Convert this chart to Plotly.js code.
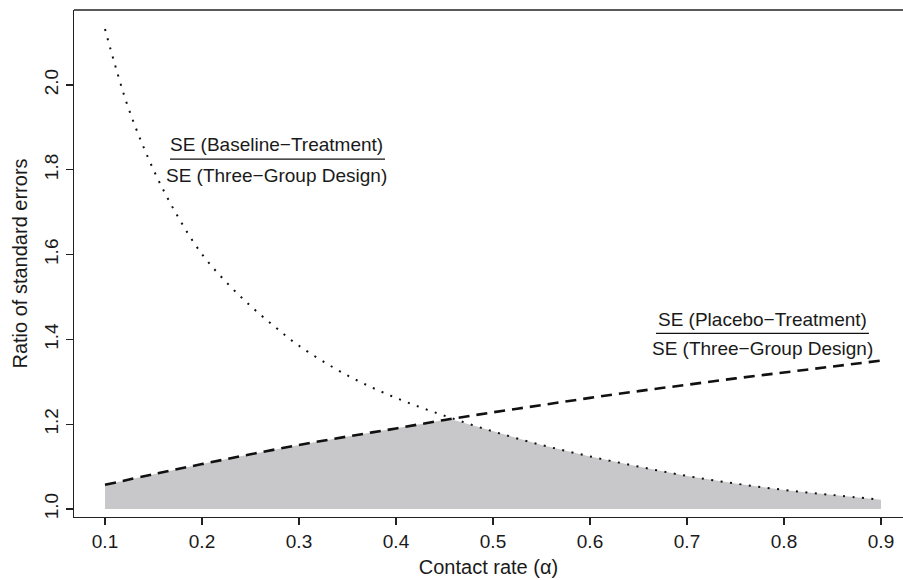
<!DOCTYPE html>
<html>
<head>
<meta charset="utf-8">
<script src="https://cdn.plot.ly/plotly-3.0.1.min.js"></script>
<style>
html,body{margin:0;padding:0;background:#fff;overflow:hidden;}
#chart{width:903px;height:580px;}
</style>
</head>
<body>
<div id="chart"></div>
<script>
// Contact rate values and ratios
const alphaBaseline = [0.1, 0.11, 0.125, 0.15, 0.175, 0.2, 0.225, 0.25, 0.275, 0.3, 0.35, 0.4, 0.45, 0.5, 0.55, 0.6, 0.65, 0.7, 0.75, 0.8, 0.85, 0.9];
const ratioBaseline = [2.132, 2.05, 1.94, 1.80, 1.69, 1.601, 1.535, 1.479, 1.43, 1.385, 1.315, 1.262, 1.220, 1.183, 1.151, 1.124, 1.100, 1.078, 1.060, 1.045, 1.033, 1.022];
const alphaPlacebo = [0.1, 0.15, 0.2, 0.25, 0.3, 0.35, 0.4, 0.45, 0.5, 0.55, 0.6, 0.65, 0.7, 0.75, 0.8, 0.85, 0.9];
const ratioPlacebo = [1.057, 1.082, 1.106, 1.129, 1.151, 1.171, 1.190, 1.210, 1.228, 1.245, 1.262, 1.278, 1.293, 1.308, 1.322, 1.336, 1.350];
const crossing = {x: 0.455, y: 1.213};
const baseline = 1.0;
const xTicks = [0.1, 0.2, 0.3, 0.4, 0.5, 0.6, 0.7, 0.8, 0.9];
const yTicks = [1.0, 1.2, 1.4, 1.6, 1.8, 2.0];
const labelBaselineNum = 'SE (Baseline\u2212Treatment)';
const labelPlaceboNum = 'SE (Placebo\u2212Treatment)';
const labelDen = 'SE (Three\u2212Group Design)';

// Shaded region: lower envelope of the two curves down to ratio 1
const fillX = [], fillY = [];
alphaPlacebo.forEach((a, i) => { if (a < crossing.x) { fillX.push(a); fillY.push(ratioPlacebo[i]); } });
fillX.push(crossing.x); fillY.push(crossing.y);
alphaBaseline.forEach((a, i) => { if (a > crossing.x) { fillX.push(a); fillY.push(ratioBaseline[i]); } });
fillX.push(alphaBaseline[alphaBaseline.length - 1]); fillY.push(baseline);
fillX.push(alphaPlacebo[0]); fillY.push(baseline);

const font = 'Liberation Sans, Arial, Helvetica, sans-serif';
const txt = '#1a1a1a';

const traces = [
  {x: fillX, y: fillY, type: 'scatter', mode: 'lines', fill: 'toself',
   fillcolor: 'rgb(200,200,202)', line: {width: 0}, hoverinfo: 'skip', showlegend: false},
  {x: alphaBaseline, y: ratioBaseline, type: 'scatter', mode: 'lines',
   line: {color: '#111', width: 2, dash: '2px,7.5px', shape: 'spline'}, showlegend: false},
  {x: alphaPlacebo, y: ratioPlacebo, type: 'scatter', mode: 'lines',
   line: {color: '#111', width: 2.6, dash: '11px,7px', shape: 'spline'}, showlegend: false}
];

const layout = {
  width: 903, height: 580,
  margin: {l: 74, r: 0, t: 10, b: 63},
  paper_bgcolor: '#fff', plot_bgcolor: '#fff',
  showlegend: false,
  font: {family: font, size: 19, color: txt},
  xaxis: {
    range: [0.06804, 0.92268], tickvals: xTicks, tickformat: '.1f',
    showgrid: false, zeroline: false, showline: true, linecolor: '#222', linewidth: 1.4,
    ticks: 'outside', ticklen: 7, tickwidth: 1.3, tickcolor: '#222',
    tickfont: {family: font, size: 19, color: txt},
    title: {text: 'Contact rate (\u03b1)', font: {family: font, size: 20, color: txt}, standoff: 8}
  },
  yaxis: {
    range: [0.98113, 2.17689], tickvals: yTicks, tickformat: '.1f', tickangle: -90,
    showgrid: false, zeroline: false, showline: true, linecolor: '#222', linewidth: 1.4,
    ticks: 'outside', ticklen: 7, tickwidth: 1.3, tickcolor: '#222',
    tickfont: {family: font, size: 19, color: txt},
    title: {text: 'Ratio of standard errors', font: {family: font, size: 20, color: txt}, standoff: 8}
  },
  shapes: [
    {type: 'line', xref: 'paper', yref: 'paper', x0: 0, x1: 1, y0: 1, y1: 1, line: {color: '#222', width: 1.4}},
    {type: 'line', xref: 'x', yref: 'y', x0: 0.167, x1: 0.3887, y0: 1.825, y1: 1.825, line: {color: '#111', width: 1.2}},
    {type: 'line', xref: 'x', yref: 'y', x0: 0.668, x1: 0.8876, y0: 1.4144, y1: 1.4144, line: {color: '#111', width: 1.2}}
  ],
  annotations: [
    {x: 0.2773, y: 1.860, xref: 'x', yref: 'y', text: labelBaselineNum, showarrow: false, font: {family: font, size: 19, color: txt}},
    {x: 0.2773, y: 1.786, xref: 'x', yref: 'y', text: labelDen, showarrow: false, font: {family: font, size: 19, color: txt}},
    {x: 0.778, y: 1.448, xref: 'x', yref: 'y', text: labelPlaceboNum, showarrow: false, font: {family: font, size: 19, color: txt}},
    {x: 0.778, y: 1.379, xref: 'x', yref: 'y', text: labelDen, showarrow: false, font: {family: font, size: 19, color: txt}}
  ]
};

Plotly.newPlot('chart', traces, layout, {displayModeBar: false, staticPlot: true});
</script>
</body>
</html>
